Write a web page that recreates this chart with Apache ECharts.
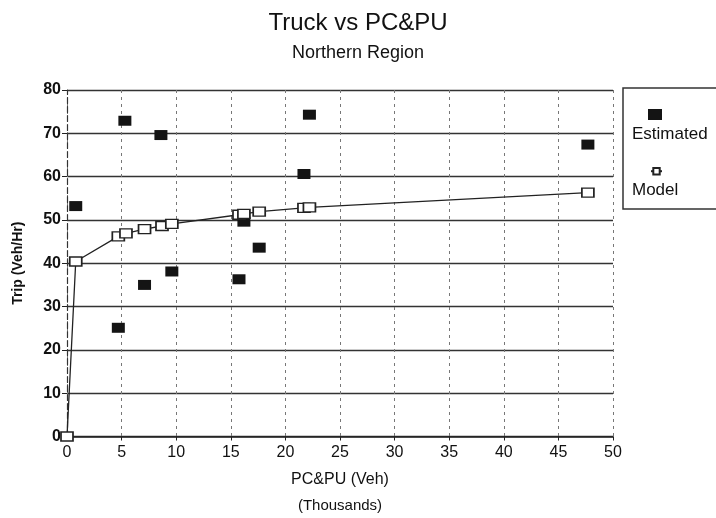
<!DOCTYPE html>
<html><head><meta charset="utf-8">
<script src="https://cdn.jsdelivr.net/npm/echarts@6/dist/echarts.min.js"></script>
<style>html,body{margin:0;padding:0;background:#fff}#c{width:716px;height:518px}</style>
</head><body><div id="c"></div>
<script>
// Estimated points (PC&PU thousands, Trip veh/hr)
var estX = [0.8, 4.7, 5.3, 7.1, 8.6, 9.6, 15.75, 16.2, 17.6, 21.7, 22.2, 47.7];
var estY = [53.2, 25.1, 72.9, 35.0, 69.6, 38.1, 36.3, 49.6, 43.6, 60.6, 74.3, 67.4];
// Model points
var modX = [0, 0.8, 4.7, 5.4, 7.1, 8.7, 9.6, 15.75, 16.2, 17.6, 21.7, 22.2, 47.7];
var modY = [0, 40.4, 46.2, 46.9, 47.9, 48.6, 49.1, 51.2, 51.4, 51.9, 52.8, 52.9, 56.3];
var xTicks = [0, 5, 10, 15, 20, 25, 30, 35, 40, 45, 50];
var yTicks = [0, 10, 20, 30, 40, 50, 60, 70, 80];

function pairs(xs, ys){ return xs.map(function(x,i){ return [x, ys[i]]; }); }
var F = '"Liberation Sans", Arial, sans-serif';
var chart = echarts.init(document.getElementById('c'));
chart.setOption({
  backgroundColor: '#fff',
  animation: false,
  title: {
    text: 'Truck vs PC&PU', subtext: 'Northern Region',
    left: 'center', top: 6, itemGap: 9,
    textStyle: {fontFamily: F, fontSize: 24, fontWeight: 'normal', color: '#111'},
    subtextStyle: {fontFamily: F, fontSize: 18, color: '#111'}
  },
  grid: {left: 67, right: 103, top: 90, bottom: 80},
  xAxis: {
    type: 'value', min: xTicks[0], max: xTicks[xTicks.length-1], interval: 5,
    name: '{a|PC&PU (Veh)}\n{b|(Thousands)}', nameLocation: 'middle', nameGap: 30,
    nameTextStyle: {rich: {
      a: {fontFamily: F, fontSize: 16, color: '#111', lineHeight: 26},
      b: {fontFamily: F, fontSize: 15, color: '#111', lineHeight: 26}
    }},
    axisLine: {lineStyle: {color: '#222', width: 1.5}},
    axisTick: {show: true, length: 4, lineStyle: {color: '#222'}},
    axisLabel: {fontFamily: F, fontSize: 16, color: '#111', margin: 8},
    splitLine: {show: true, lineStyle: {color: '#777', type: [3, 4], width: 1}}
  },
  yAxis: {
    type: 'value', min: yTicks[0], max: yTicks[yTicks.length-1], interval: 10,
    name: 'Trip (Veh/Hr)', nameLocation: 'middle', nameGap: 42, nameRotate: 90,
    nameTextStyle: {fontFamily: F, fontSize: 14, fontWeight: 'bold', color: '#111'},
    axisLine: {show: true, lineStyle: {color: '#333', width: 1.2, type: [6, 3]}},
    axisTick: {show: true, length: 5, lineStyle: {color: '#222'}},
    axisLabel: {fontFamily: F, fontSize: 16, fontWeight: 'bold', color: '#111', margin: 6},
    splitLine: {show: true, lineStyle: {color: '#333', width: 1.4}}
  },
  legend: [
    {data: ['Estimated'], left: 643, top: 104, orient: 'vertical', itemWidth: 14, itemHeight: 11,
     selectedMode: false, formatter: function(){return '';}},
    {data: ['Model'], left: 645, top: 162, orient: 'vertical', itemWidth: 11, itemHeight: 8,
     selectedMode: false, formatter: function(){return '';}}
  ],
  graphic: [
    {type: 'rect', shape: {x: 623, y: 88, width: 110, height: 121},
     style: {fill: 'none', stroke: '#333', lineWidth: 1.5}},
    {type: 'text', left: 632, top: 126, style: {text: 'Estimated', font: '17px ' + F, fill: '#111'}},
    {type: 'text', left: 632, top: 182, style: {text: 'Model', font: '17px ' + F, fill: '#111'}}
  ],
  series: [
    {name: 'Estimated', type: 'scatter', data: pairs(estX, estY),
     symbol: 'rect', symbolSize: [13, 10],
     itemStyle: {color: '#141414', opacity: 1}},
    {name: 'Model', type: 'line', data: pairs(modX, modY),
     symbol: 'rect', symbolSize: [12, 9], showAllSymbol: true,
     lineStyle: {color: '#222', width: 1.3},
     itemStyle: {color: '#fff', borderColor: '#222', borderWidth: 1.5}}
  ]
});
</script></body></html>
